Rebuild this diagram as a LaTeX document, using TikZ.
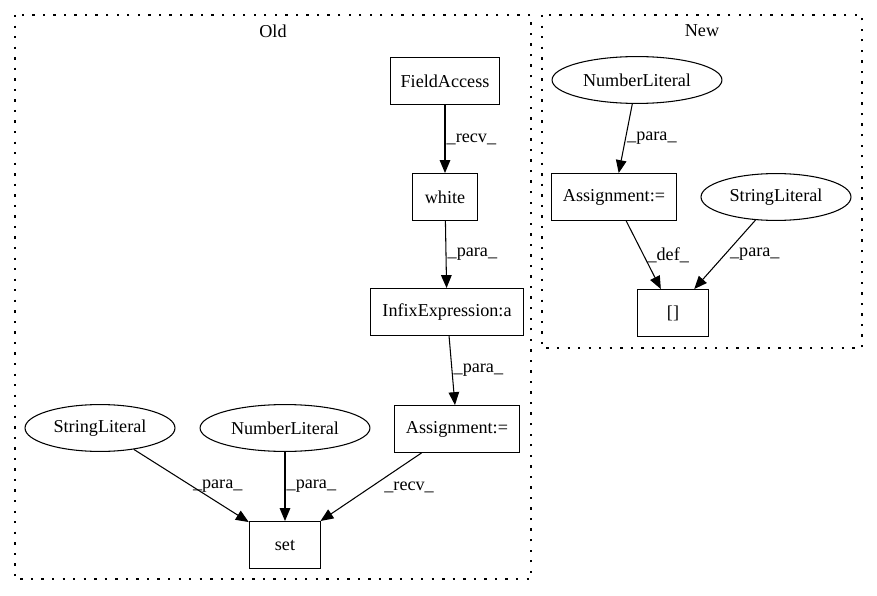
\documentclass[tikz,border=0pt]{standalone}
\usepackage{fontspec}
\setmainfont{Liberation Serif}
\usetikzlibrary{arrows.meta,shapes.geometric}

\begin{document}
\begin{tikzpicture}[x=0.03cm, y=-0.03cm, font=\fontsize{15.5pt}{18pt}\selectfont,
	box/.style={draw, rectangle, line width=0.9pt, minimum height=40pt, inner sep=0pt},
	oval/.style={draw, ellipse, line width=0.9pt, minimum height=40pt, inner sep=0pt},
	edge/.style={-{Triangle[length=11pt,width=9pt]}, line width=0.9pt},
	lbl/.style={right, inner sep=1pt},
	cluster/.style={line width=0.9pt, dash pattern=on 2pt off 7pt}]
	\useasboundingbox (0,0) rectangle (877,596);
	%\draw[help lines] (0,0) grid[step=50] (877,596);
	\draw[cluster] (15,15) rectangle (531,579);
	\node (old) at (273,31) {Old};
	\node[box, minimum width=93pt] (fieldaccess) at (445,81) {FieldAccess};
	\node[box, minimum width=56pt] (white) at (445,197) {white};
	\node[box, minimum width=131pt] (infix) at (447,312) {InfixExpression:a};
	\node[box, minimum width=106pt] (assignold) at (457,429) {Assignment:=};
	\node[oval, minimum width=128pt] (stringold) at (100,428) {StringLiteral};
	\node[oval, minimum width=145pt] (numberold) at (285,428) {NumberLiteral};
	\node[box, minimum width=61pt] (set) at (285,545) {set};
	\draw[edge] (fieldaccess) -- node[lbl] {\_recv\_} (white);
	\draw[edge] (white) -- node[lbl] {\_para\_} (infix);
	\draw[edge] (infix) -- node[lbl] {\_para\_} (assignold);
	\draw[edge] (stringold) -- node[lbl] {\_para\_} (set);
	\draw[edge] (numberold) -- node[lbl] {\_para\_} (set);
	\draw[edge] (assignold) -- node[lbl, xshift=10pt] {\_recv\_} (set);

	\draw[cluster] (542,15) rectangle (862,348);
	\node (new) at (702,31) {New};
	\node[oval, minimum width=145pt] (numbernew) at (637,80) {NumberLiteral};
	\node[box, minimum width=106pt] (assignnew) at (614,197) {Assignment:=};
	\node[oval, minimum width=128pt] (stringnew) at (776,197) {StringLiteral};
	\node[box, minimum width=61pt] (index) at (673,313) {[]};
	\draw[edge] (numbernew) -- node[lbl] {\_para\_} (assignnew);
	\draw[edge] (assignnew) -- node[lbl, xshift=2pt] {\_def\_} (index);
	\draw[edge] (stringnew) -- node[lbl, xshift=3pt] {\_para\_} (index);
\end{tikzpicture}
\end{document}
